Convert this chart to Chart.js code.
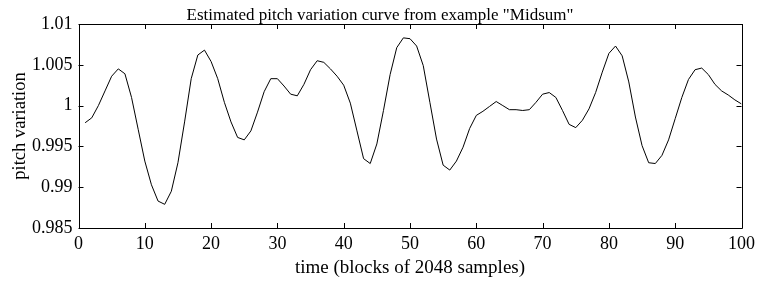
<!DOCTYPE html>
<html>
<head>
<meta charset="utf-8">
<script src="https://cdn.jsdelivr.net/npm/chart.js@4/dist/chart.umd.min.js"></script>
<style>
  html, body { margin: 0; padding: 0; background: #fff; }
  #wrap { width: 760px; height: 283px; }
</style>
</head>
<body>
<div id="wrap"><canvas id="c" width="760" height="283"></canvas></div>
<script>
const timeBlocks = [];
for (let i = 1; i <= 100; i++) timeBlocks.push(i);

const pitchVariation = [
  0.9979, 0.9985, 1.0000, 1.0018, 1.0036, 1.0045, 1.0039, 1.0010, 0.9971, 0.9932,
  0.9903, 0.9883, 0.9879, 0.9895, 0.9930, 0.9980, 1.0033, 1.0062, 1.0068, 1.0054,
  1.0033, 1.0004, 0.9980, 0.9961, 0.9958, 0.9969, 0.9992, 1.0017, 1.0033, 1.0033,
  1.0024, 1.0014, 1.0012, 1.0026, 1.0044, 1.0055, 1.0053, 1.0045, 1.0036, 1.0025,
  1.0003, 0.9969, 0.9935, 0.9929, 0.9953, 0.9994, 1.0038, 1.0071, 1.0083, 1.0082,
  1.0073, 1.0049, 1.0004, 0.9959, 0.9927, 0.9921, 0.9932, 0.9949, 0.9972, 0.9988,
  0.9993, 0.9999, 1.0005, 1.0000, 0.9995, 0.9995, 0.9994, 0.9995, 1.0004, 1.0014,
  1.0016, 1.0010, 0.9994, 0.9977, 0.9973, 0.9982, 0.9996, 1.0016, 1.0041, 1.0064,
  1.0073, 1.0061, 1.0029, 0.9986, 0.9951, 0.9930, 0.9929, 0.9939, 0.9958, 0.9984,
  1.0010, 1.0032, 1.0044, 1.0046, 1.0038, 1.0026, 1.0018, 1.0013, 1.0007, 1.0002
];

const xTickValues = [0, 10, 20, 30, 40, 50, 60, 70, 80, 90, 100];
const yTickValues = [0.985, 0.99, 0.995, 1, 1.005, 1.01];
const yTickLabels = ['0.985', '0.99', '0.995', '1', '1.005', '1.01'];

const titleText = 'Estimated pitch variation curve from example "Midsum"';
const xLabel = 'time (blocks of 2048 samples)';
const yLabel = 'pitch variation';

const FONT = "'Liberation Serif', 'Times New Roman', serif";

const boxTicks = {
  id: 'boxTicks',
  afterDatasetsDraw(chart) {
    const {ctx, chartArea: a, scales: {x, y}} = chart;
    const L = 5;
    ctx.save();
    ctx.strokeStyle = '#000';
    ctx.lineWidth = 1;
    ctx.beginPath();
    ctx.rect(Math.round(a.left) + 0.5, Math.round(a.top) + 0.5,
             Math.round(a.right) - Math.round(a.left), Math.round(a.bottom) - Math.round(a.top));
    xTickValues.forEach(v => {
      const px = Math.round(x.getPixelForValue(v)) + 0.5;
      ctx.moveTo(px, a.bottom); ctx.lineTo(px, a.bottom - L);
      ctx.moveTo(px, a.top); ctx.lineTo(px, a.top + L);
    });
    yTickValues.forEach(v => {
      const py = Math.round(y.getPixelForValue(v)) + 0.5;
      ctx.moveTo(a.left, py); ctx.lineTo(a.left + L, py);
      ctx.moveTo(a.right, py); ctx.lineTo(a.right - L, py);
    });
    ctx.stroke();
    // chart title
    ctx.fillStyle = '#000';
    ctx.font = "17px " + FONT;
    ctx.textAlign = 'center';
    ctx.textBaseline = 'alphabetic';
    ctx.fillText(titleText, 380, 20);
    ctx.restore();
  }
};

const bgPlugin = {
  id: 'bg',
  beforeDraw(chart) {
    const ctx = chart.ctx;
    ctx.save();
    ctx.fillStyle = '#fff';
    ctx.fillRect(0, 0, chart.width, chart.height);
    ctx.restore();
  }
};

new Chart(document.getElementById('c'), {
  type: 'line',
  data: {
    labels: timeBlocks,
    datasets: [{
      data: timeBlocks.map((t, i) => ({x: t, y: pitchVariation[i]})),
      borderColor: '#000',
      borderWidth: 1,
      pointRadius: 0,
      tension: 0,
      fill: false
    }]
  },
  options: {
    responsive: false,
    animation: false,
    devicePixelRatio: 1,
    layout: { padding: { left: 0, right: 14.7, top: 24, bottom: 0 } },
    plugins: {
      legend: { display: false },
      tooltip: { enabled: false },
      title: { display: false }
    },
    scales: {
      x: {
        type: 'linear',
        min: 0, max: 100,
        afterBuildTicks: s => { s.ticks = xTickValues.map(v => ({value: v})); },
        afterFit: s => { s.height = 55; },
        grid: { display: false, drawTicks: false },
        border: { display: false },
        ticks: {
          color: '#000',
          font: { family: FONT, size: 18 },
          padding: 5,
          maxRotation: 0,
          autoSkip: false,
          callback: v => String(v)
        },
        title: {
          display: true,
          text: xLabel,
          color: '#000',
          font: { family: FONT, size: 19 },
          padding: { top: 0, bottom: 3.6 }
        }
      },
      y: {
        type: 'linear',
        min: 0.985, max: 1.01,
        afterBuildTicks: s => { s.ticks = yTickValues.map(v => ({value: v})); },
        afterFit: s => { s.width = 78.5; },
        grid: { display: false, drawTicks: false },
        border: { display: false },
        ticks: {
          color: '#000',
          font: { family: FONT, size: 18 },
          padding: 6,
          autoSkip: false,
          callback: (v) => { const i = yTickValues.findIndex(t => Math.abs(t - v) < 1e-9); return i >= 0 ? yTickLabels[i] : ''; }
        },
        title: {
          display: true,
          text: yLabel,
          color: '#000',
          font: { family: FONT, size: 18.5 },
          padding: { top: 8.9, bottom: 0 }
        }
      }
    }
  },
  plugins: [bgPlugin, boxTicks]
});
</script>
</body>
</html>
